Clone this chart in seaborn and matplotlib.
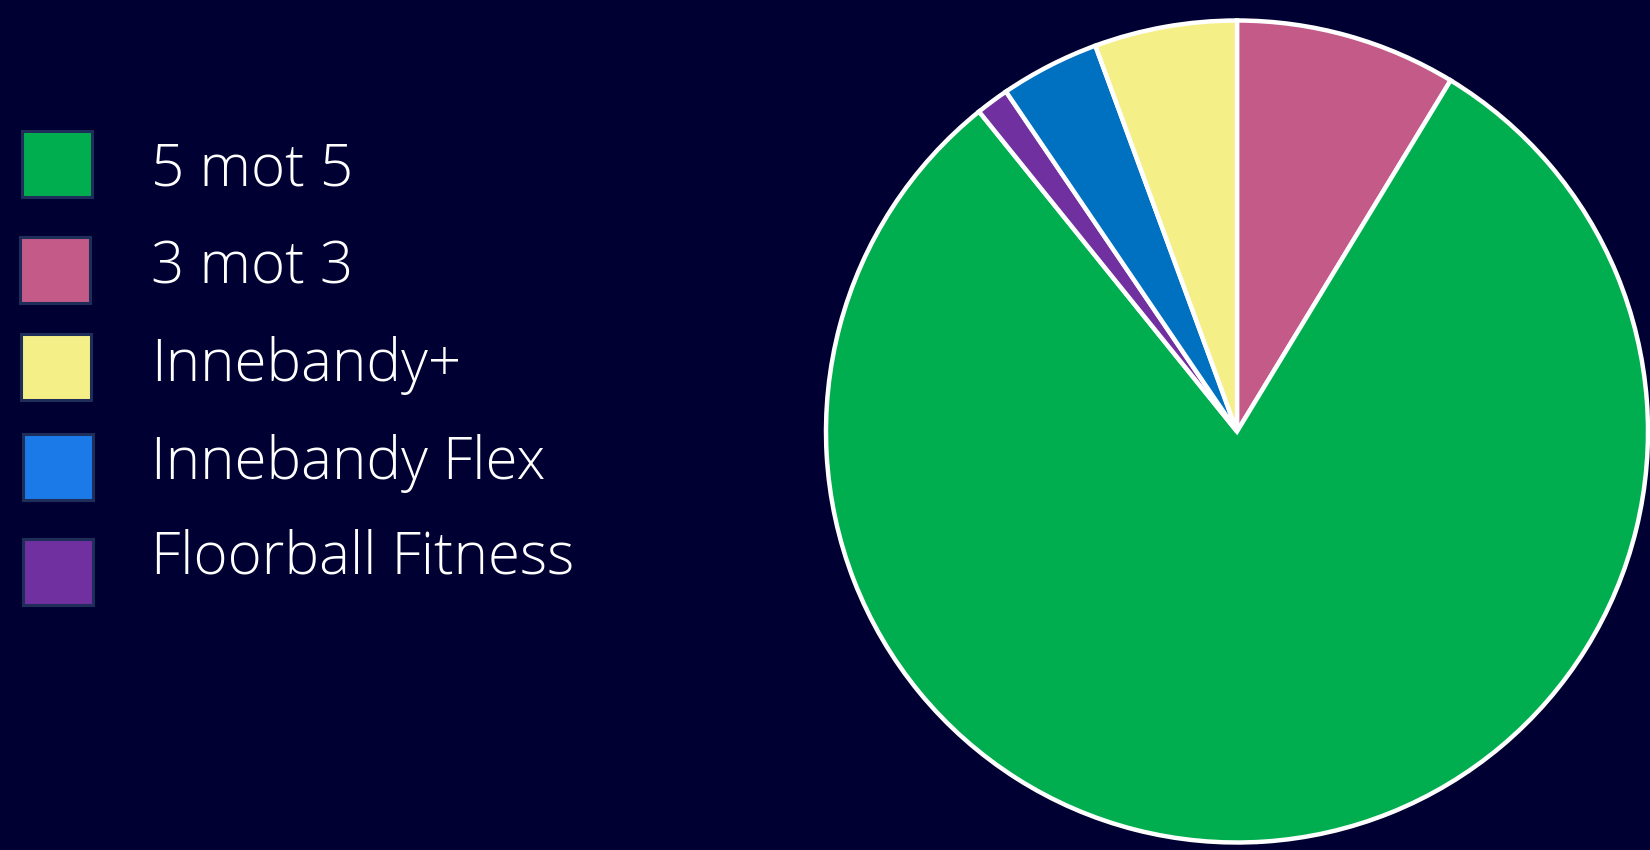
import matplotlib
matplotlib.use("Agg")
import matplotlib.pyplot as plt
from matplotlib.patches import Rectangle
import seaborn as sns

# === Data ===
labels = ["5 mot 5", "3 mot 3", "Innebandy+", "Innebandy Flex", "Floorball Fitness"]
shares = [80.5, 8.7, 5.6, 3.9, 1.3]
pie_colors = ["#00AE4F", "#C45A88", "#F5EF88", "#0070C0", "#7030A0"]
legend_colors = ["#00AE4F", "#C45A88", "#F5EF88", "#1B7AE8", "#7030A0"]

# wedge order clockwise from 12 o'clock
pie_order = ["3 mot 3", "5 mot 5", "Floorball Fitness", "Innebandy Flex", "Innebandy+"]

BG = "#000033"
W, H = 1650, 850

sns.set_theme(style="dark", rc={"figure.facecolor": BG, "axes.facecolor": BG})
plt.rcParams["font.family"] = ["Open Sans", "DejaVu Sans"]

fig = plt.figure(figsize=(W / 100, H / 100), dpi=100)

# === Pie ===
cx, cy, r = 1237, 431.5, 411
ax = fig.add_axes([(cx - r) / W, (H - cy - r) / H, 2 * r / W, 2 * r / H])
ax.set_facecolor(BG)
vals = [shares[labels.index(k)] for k in pie_order]
cols = [pie_colors[labels.index(k)] for k in pie_order]
wedges, _ = ax.pie(vals, colors=cols, startangle=90, counterclock=False,
                   radius=1.0, wedgeprops=dict(edgecolor="white", linewidth=3.2))
for w in wedges:
    w.set_clip_on(False)
ax.set_xlim(-1, 1)
ax.set_ylim(-1, 1)
ax.set_aspect("equal")
ax.axis("off")

# === Legend ===
box_tops = [131, 237, 334, 434, 539]
box_left = [22, 20, 21, 23, 23]
baselines = [186, 283, 381, 479, 573]
for i, lab in enumerate(labels):
    x0, y0 = box_left[i], box_tops[i]
    fig.patches.append(Rectangle((x0 / W, (H - y0 - 66) / H), 70 / W, 66 / H,
                                 transform=fig.transFigure, facecolor=legend_colors[i],
                                 edgecolor="#1E2E58", linewidth=2.2))
    fig.text(151 / W, (H - baselines[i]) / H, lab, color="white", fontsize=42,
             fontweight="light", va="baseline", ha="left")

fig.savefig("out.png", dpi=100, facecolor=BG)
